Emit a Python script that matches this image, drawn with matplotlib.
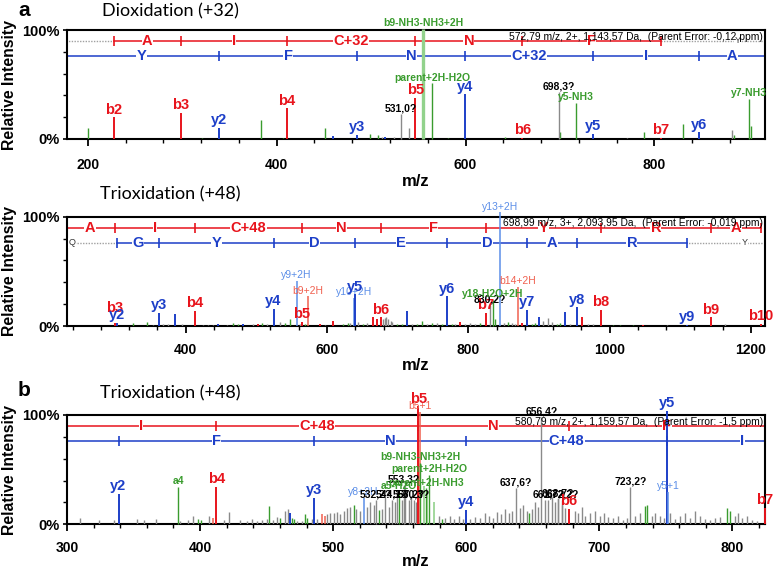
import numpy as np
import matplotlib.pyplot as plt
from matplotlib.ticker import MultipleLocator

plt.rcParams['font.family'] = ['Liberation Sans', 'DejaVu Sans']

# ---- data -------------------------------------------------------------
# ion kinds: b / y fragment, n = neutral loss (green), u = unassigned,
# bb / yy = multiply charged / isotope, nn = strong neutral loss
# panel a : dioxidation (+32)
a_mz = [227.6, 298.6, 338.9, 411.0, 485.3, 531.6, 546.8, 555.2, 564.8, 599.8,
        660.2, 698.4, 716.4, 734.5, 806.6, 846.9, 899.9]
a_h = [20, 24, 10, 28, 4, 23, 38, 101, 51, 41, 1, 43, 33, 5, 1, 6, 37]
a_kind = ['b', 'b', 'y', 'b', 'y', 'u', 'b', 'nn', 'n', 'y',
          'b', 'u', 'n', 'y', 'b', 'y', 'n']
a_lab = ['b2', 'b3', 'y2', 'b4', 'y3', '531,0?', 'b5', 'b9-NH3-NH3+2H', 'parent+2H-H2O', 'y4',
         'b6', '698,3?', 'y5-NH3', 'y5', 'b7', 'y6', 'y7-NH3']
a_noise_mz = [200.0, 320.9, 383.5, 406.8, 451.3, 459.8, 499.0, 507.5, 511.8, 515.0,
              523.8, 540.4, 581.8, 642.0, 699.5, 771.0, 788.5, 829.9, 881.9, 884.0, 902.0]
a_noise_h = [10, 1, 17, 1, 10, 3, 5, 4, 2, 2, 2, 10, 1, 2, 6, 1, 6, 14, 8, 4, 12]
a_noise_kind = ['n', 'n', 'n', 'n', 'n', 'y', 'n', 'n', 'u', 'y',
                'u', 'u', 'n', 'n', 'n', 'u', 'n', 'n', 'u', 'n', 'n']
a_b_ions = [227.6, 298.6, 411.0, 546.8, 660.2, 806.6]
a_b_res = ['A', 'I', 'C+32', 'N', 'F']
a_y_ions = [175.1, 338.9, 485.3, 599.8, 734.5, 846.9, 918.0]
a_y_res = ['Y', 'F', 'N', 'C+32', 'I', 'A']
a_info = '572,79 m/z, 2+, 1,143,57 Da,  (Parent Error: -0,12 ppm)'

# panel a (lower) : trioxidation (+48)
t_mz = [300.1, 302.9, 362.4, 413.3, 524.4, 556.9, 564.7, 573.2, 638.5, 639.7,
        676.5, 769.9, 825.0, 830.7, 835.0, 844.9, 870.4, 883.1, 953.8, 987.8,
        1109.5, 1143.5, 1214.3]
t_h = [3, 3, 12, 14, 16, 41, 4, 27, 26, 29, 8, 27, 12, 19, 24, 104, 36, 15, 17, 15, 1, 8, 2]
t_kind = ['b', 'y', 'y', 'b', 'y', 'yy', 'b', 'bb', 'yy', 'y',
          'b', 'y', 'b', 'u', 'n', 'yy', 'bb', 'y', 'y', 'b', 'y', 'b', 'b']
t_lab = ['b3', 'y2', 'y3', 'b4', 'y4', 'y9+2H', 'b5', 'b9+2H', 'y10+2H', 'y5',
         'b6', 'y6', 'b7', '830,2?', 'y18-H2O+2H', 'y13+2H', 'b14+2H', 'y7', 'y8', 'b8',
         'y9', 'b9', 'b10']
t_noise_mz = [326.0, 345.4, 354.3, 368.4, 375.5, 385.0, 394.5, 425.0, 432.1, 439.2,
              446.3, 458.1, 467.5, 474.6, 481.6, 495.8, 502.9, 507.6, 514.7, 533.6,
              540.7, 547.7, 561.9, 569.0, 590.2, 597.3, 609.0, 623.2, 630.3, 632.6,
              644.4, 651.5, 656.2, 665.2, 670.4, 679.8, 682.2, 683.6, 686.9, 690.3,
              691.6, 698.7, 705.8, 713.3, 720.0, 727.0, 734.5, 741.2, 748.2, 755.3,
              762.4, 776.5, 781.2, 788.3, 795.4, 802.4, 809.5, 816.6, 837.8, 850.6,
              856.6, 861.4, 866.1, 875.6, 889.7, 894.4, 900.0, 906.2, 912.8, 918.0,
              925.1, 929.8, 936.9, 943.9, 960.9, 969.8, 976.9, 1005.2, 1014.7, 1033.5,
              1047.7, 1080.7, 1163.3]
t_noise_h = [3, 4, 1, 2, 2, 11, 2, 1, 1, 1,
             2, 1, 3, 2, 2, 2, 2, 3, 2, 4,
             3, 6, 2, 2, 2, 1, 5, 2, 3, 3,
             4, 2, 3, 8, 6, 6, 7, 8, 6, 5,
             4, 2, 2, 14, 2, 2, 5, 2, 3, 3,
             2, 2, 2, 4, 2, 3, 2, 3, 6, 3,
             4, 3, 2, 3, 2, 3, 8, 5, 7, 4,
             2, 3, 13, 2, 8, 2, 2, 1, 1, 1,
             1, 1, 2]
t_noise_kind = ['n', 'n', 'u', 'u', 'u', 'y', 'u', 'u', 'u', 'u',
                'y', 'u', 'n', 'n', 'y', 'u', 'b', 'n', 'u', 'u',
                'n', 'n', 'u', 'n', 'b', 'u', 'b', 'n', 'n', 'u',
                'u', 'n', 'u', 'b', 'b', 'u', 'u', 'u', 'u', 'u',
                'u', 'n', 'n', 'y', 'u', 'n', 'n', 'u', 'n', 'u',
                'n', 'n', 'u', 'b', 'u', 'u', 'u', 'n', 'n', 'u',
                'n', 'u', 'u', 'b', 'n', 'n', 'y', 'u', 'u', 'u',
                'n', 'n', 'y', 'u', 'b', 'u', 'u', 'n', 'n', 'n',
                'b', 'u', 'u']
t_b_ions = [229.1, 300.1, 413.3, 564.7, 676.5, 825.0, 987.8, 1143.5, 1214.3]
t_b_res = ['A', 'I', 'C+48', 'N', 'F', 'Y', 'R', 'A']
t_y_ions = [303.0, 362.4, 524.4, 639.7, 769.9, 883.1, 953.8, 1109.5]
t_y_res = ['G', 'Y', 'D', 'E', 'D', 'A', 'R']
t_info = '698,99 m/z, 3+, 2,093,95 Da,  (Parent Error: -0,019 ppm)'

# panel b : trioxidation (+48)
b_mz = [338.7, 383.7, 412.2, 485.8, 522.8, 532.3, 544.1, 549.5, 553.3, 557.2,
        560.4, 563.9, 564.9, 565.5, 569.7, 572.0, 600.0, 637.6, 656.4, 661.7,
        668.7, 672.2, 677.3, 723.2, 750.9, 751.9, 824.3]
b_h = [28, 34, 34, 24, 24, 22, 22, 30, 36, 22,
       22, 108, 103, 56, 33, 45, 13, 33, 98, 22,
       23, 22, 14, 34, 104, 30, 15]
b_kind = ['y', 'n', 'b', 'y', 'yy', 'u', 'u', 'n', 'u', 'u',
          'u', 'b', 'bb', 'n', 'n', 'n', 'y', 'u', 'u', 'u',
          'u', 'u', 'b', 'u', 'y', 'yy', 'b']
b_lab = ['y2', 'a4', 'b4', 'y3', 'y8+2H', '532,2?', '544,1?', 'a5-H2O', '553,3?', '557,2?',
         '560,3?', 'b5', 'b5+1', 'b9-NH3-NH3+2H', 'parent+2H-NH3', 'parent+2H-H2O', 'y4', '637,6?', '656,4?', '661,7?',
         '668,7?', '672,2?', 'b6', '723,2?', 'y5', 'y5+1', 'b7']
b_noise_mz = [309.6, 324.0, 335.0, 352.7, 357.6, 367.0, 385.0, 391.0, 395.0, 398.7,
              400.5, 406.5, 410.0, 417.7, 422.0, 430.0, 435.0, 439.0, 443.0, 446.6,
              450.0, 451.8, 454.8, 457.8, 460.3, 464.0, 465.8, 467.3, 469.0, 470.8,
              473.0, 476.6, 479.0, 480.5, 484.0, 488.0, 491.6, 494.0, 495.5, 497.8,
              500.3, 502.9, 505.0, 507.8, 510.4, 512.9, 515.9, 517.4, 520.4, 525.4,
              527.9, 530.4, 534.6, 536.7, 539.1, 541.6, 546.7, 547.9, 551.7, 554.2,
              558.6, 562.0, 568.0, 570.5, 575.5, 579.3, 581.8, 584.3, 588.0, 591.0,
              594.3, 597.5, 603.0, 606.8, 610.5, 614.3, 616.8, 620.0, 623.0, 626.0,
              629.3, 631.8, 634.3, 640.5, 643.0, 645.5, 647.0, 649.3, 651.8, 654.3,
              659.3, 664.3, 666.8, 669.3, 671.8, 674.3, 681.8, 684.3, 686.8, 689.3,
              693.0, 696.8, 700.5, 703.5, 706.8, 710.5, 714.3, 718.0, 720.5, 727.0,
              730.8, 734.5, 735.8, 739.5, 742.0, 745.8, 748.3, 753.3, 757.0, 760.8,
              764.5, 768.3, 772.0, 775.8, 779.5, 783.3, 787.0, 790.8, 795.8, 798.3,
              802.0, 804.5, 807.0, 810.8, 814.5, 818.3]
b_noise_h = [6, 4, 4, 5, 4, 5, 3, 4, 8, 5,
             4, 8, 6, 4, 11, 4, 3, 5, 3, 4,
             5, 17, 4, 7, 6, 12, 14, 10, 6, 5,
             3, 3, 9, 6, 5, 5, 9, 8, 9, 10,
             10, 11, 9, 12, 15, 16, 18, 14, 12, 16,
             20, 18, 13, 14, 25, 16, 20, 30, 22, 35,
             26, 20, 35, 30, 20, 8, 5, 6, 8, 5,
             8, 5, 5, 7, 6, 10, 8, 6, 11, 9,
             14, 10, 12, 15, 18, 12, 10, 14, 20, 16,
             22, 25, 20, 24, 18, 15, 12, 10, 16, 8,
             10, 12, 8, 10, 7, 6, 8, 4, 6, 8,
             10, 17, 18, 8, 10, 8, 6, 10, 5, 8,
             10, 6, 12, 8, 5, 4, 6, 7, 15, 12,
             8, 10, 6, 8, 4, 3]
b_noise_kind = ['u', 'u', 'u', 'u', 'u', 'u', 'u', 'u', 'u', 'n',
                'n', 'u', 'bb', 'u', 'u', 'u', 'u', 'u', 'u', 'u',
                'u', 'n', 'u', 'u', 'n', 'u', 'u', 'y', 'n', 'n',
                'u', 'u', 'n', 'n', 'u', 'u', 'bb', 'bb', 'u', 'u',
                'u', 'u', 'u', 'u', 'u', 'u', 'n', 'u', 'u', 'u',
                'u', 'u', 'n', 'u', 'u', 'u', 'u', 'u', 'u', 'u',
                'u', 'u', 'nn', 'nn', 'nn', 'u', 'n', 'u', 'u', 'u',
                'u', 'u', 'u', 'u', 'u', 'u', 'u', 'u', 'u', 'u',
                'u', 'u', 'u', 'u', 'u', 'u', 'n', 'u', 'u', 'u',
                'u', 'u', 'u', 'u', 'u', 'u', 'u', 'u', 'u', 'u',
                'u', 'u', 'u', 'u', 'u', 'u', 'u', 'u', 'u', 'u',
                'u', 'n', 'n', 'u', 'u', 'u', 'u', 'u', 'u', 'u',
                'u', 'u', 'u', 'u', 'u', 'u', 'u', 'u', 'n', 'n',
                'u', 'u', 'u', 'u', 'u', 'u']
b_b_ions = [299.2, 412.2, 563.9, 677.3, 824.3]
b_b_res = ['I', 'C+48', 'N', 'F']
b_y_ions = [175.1, 338.7, 485.8, 600.0, 750.9, 864.0]
b_y_res = ['Y', 'F', 'N', 'C+48', 'I']
b_info = '580,79 m/z, 2+, 1,159,57 Da,  (Parent Error: -1,5 ppm)'

# ---- styles -----------------------------------------------------------
RED = '#e8141c'
BLUE = '#1d3fc8'
GREEN = '#3a9c2e'
GREY = '#8a8a8a'
LRED = '#f0604f'
LBLUE = '#5b8ee8'
LGREEN = '#92d28c'
line_col = {'b': RED, 'y': BLUE, 'n': GREEN, 'u': GREY, 'bb': LRED, 'yy': LBLUE, 'nn': LGREEN}
text_col = {'b': RED, 'y': BLUE, 'n': GREEN, 'u': 'black', 'bb': LRED, 'yy': LBLUE, 'nn': GREEN}
line_w = {'b': 1.4, 'y': 1.4, 'n': 1.0, 'u': 1.0, 'bb': 1.1, 'yy': 1.1, 'nn': 2.4}

W, H = 775, 572
fig = plt.figure(figsize=(W / 100, H / 100), dpi=100)


def make_ax(top, bottom, left=67, right=765):
    return fig.add_axes([left / W, 1 - bottom / H, (right - left) / W, (bottom - top) / H])


def ladder(ax, y, ions, res, color, lead=None, trail=None):
    ax.plot([ions[0], ions[-1]], [y, y], color=color, lw=1.1, zorder=2)
    ax.plot(ions, [y] * len(ions), ls='none', marker='|', ms=7, mew=1.2, color=color, zorder=2)
    for a, b, r in zip(ions[:-1], ions[1:], res):
        ax.text((a + b) / 2, y, r, color=color, ha='center', va='center', fontsize=10.5,
                fontweight='bold', zorder=3, clip_on=True,
                bbox=dict(fc='white', ec='none', pad=0.2))
    for seg, end in ((lead, ions[0]), (trail, ions[-1])):
        if seg is None:
            continue
        mass, letter = seg
        other = end - mass if seg is lead else end + mass
        ax.plot([other, end], [y, y], color='#a0a0a0', lw=1.0, ls=(0, (1, 1)), zorder=1.5)
        if letter:
            ax.text((other + end) / 2, y, letter, color='#333333', ha='center', va='center',
                    fontsize=6.5, zorder=3, clip_on=True,
                    bbox=dict(fc='white', ec='none', pad=0.2))


def spectrum(ax, xlim, major, minor, mz, h, kind, lab, nmz, nh, nkind,
             b_ions, b_res, y_ions, y_res, info, b_lead=None, b_trail=None,
             y_lead=None, y_trail=None, lift=None, pad=7):
    ax.set_xlim(*xlim)
    ax.set_ylim(0, 100)
    for m, v, k in zip(nmz, nh, nkind):
        ax.vlines(m, 0, v, colors=line_col[k], lw=line_w[k] if k != 'nn' else 1.2, zorder=3)
    for m, v, k in zip(mz, h, kind):
        ax.vlines(m, 0, v, colors=line_col[k], lw=line_w[k], zorder=4, clip_on=False)
    lift = lift or {}
    for m, v, k, t in zip(mz, h, kind, lab):
        big = k in ('b', 'y')
        ax.annotate(t, (m, max(v, lift.get(t, 0))), xytext=(0, 0.5), textcoords='offset points',
                    ha='center', va='bottom', color=text_col[k],
                    fontsize=10.5 if big else 7.5,
                    fontweight='normal' if k in ('bb', 'yy') else 'bold',
                    annotation_clip=False, zorder=5)
    ladder(ax, 90, b_ions, b_res, RED, b_lead, b_trail)
    ladder(ax, 76, y_ions, y_res, BLUE, y_lead, y_trail)
    ax.text(0.997, 0.94, info, transform=ax.transAxes, ha='right', va='center',
            fontsize=7.4, zorder=6)
    for s in ax.spines.values():
        s.set_linewidth(1.5)
    ax.xaxis.set_major_locator(MultipleLocator(major))
    ax.xaxis.set_minor_locator(MultipleLocator(minor))
    ax.set_yticks([0, 100], ['0%', '100%'])
    ax.set_yticks([20, 40, 60, 80], minor=True)
    ax.tick_params(axis='x', which='major', length=5, width=1.3, pad=pad, labelsize=10)
    ax.tick_params(axis='x', which='minor', length=3, width=1.0)
    ax.tick_params(axis='y', which='major', length=3, width=1.2, pad=2, labelsize=10.5)
    ax.tick_params(axis='y', which='minor', length=3, width=1.0)
    for t in ax.get_xticklabels() + ax.get_yticklabels():
        t.set_fontweight('bold')


ax1 = make_ax(30, 139)
spectrum(ax1, (178, 917), 200, 40, a_mz, a_h, a_kind, a_lab,
         a_noise_mz, a_noise_h, a_noise_kind, a_b_ions, a_b_res, a_y_ions, a_y_res, a_info,
         b_lead=(200, ''), b_trail=(163.1, 'Y'), pad=9)

ax2 = make_ax(216.7, 326)
spectrum(ax2, (232, 1220), 200, 40, t_mz, t_h, t_kind, t_lab,
         t_noise_mz, t_noise_h, t_noise_kind, t_b_ions, t_b_res, t_y_ions, t_y_res, t_info,
         y_lead=(128.1, 'Q'), y_trail=(163.1, 'Y'), lift={'b3': 9})

ax3 = make_ax(415, 524.3)
spectrum(ax3, (300, 824.5), 100, 20, b_mz, b_h, b_kind, b_lab,
         b_noise_mz, b_noise_h, b_noise_kind, b_b_ions, b_b_res, b_y_ions, b_y_res, b_info)

# ---- figure text ------------------------------------------------------
for (top, bottom), title, ty, my in (((30, 139), 'Dioxidation (+32)', 11, 181),
                                     ((216.7, 326), 'Trioxidation (+48)', 194, 366),
                                     ((415, 524.3), 'Trioxidation (+48)', 393, 562)):
    fig.text(10 / W, 1 - (top + bottom) / 2 / H, 'Relative Intensity', rotation=90,
             ha='center', va='center', fontsize=11.3, fontweight='bold')
    fig.text(416 / W, 1 - my / H, 'm/z', ha='center', va='center',
             fontsize=12, fontweight='bold')
    fig.text(170 / W, 1 - ty / H, title, ha='center', va='center', fontsize=13,
             family=['Lato', 'DejaVu Sans'])

fig.text(24 / W, 1 - 10 / H, 'a', ha='center', va='center', fontsize=15, fontweight='bold')
fig.text(24 / W, 1 - 391 / H, 'b', ha='center', va='center', fontsize=15, fontweight='bold')

fig.savefig('out.png', dpi=100)
